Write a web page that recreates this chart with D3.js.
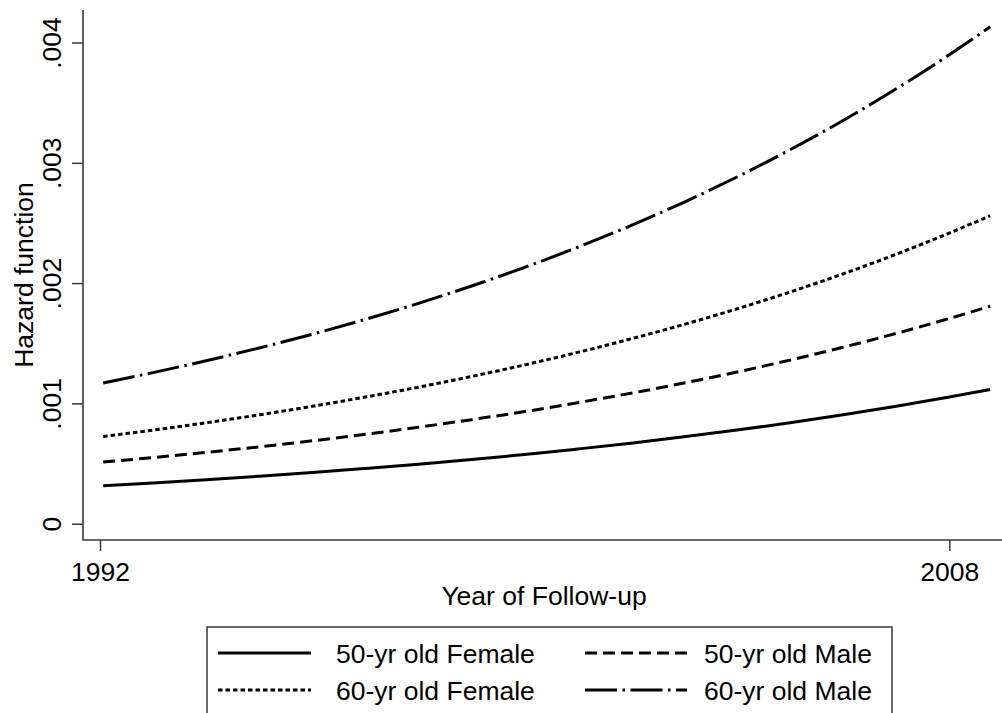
<!DOCTYPE html>
<html>
<head>
<meta charset="utf-8">
<script src="https://cdn.jsdelivr.net/npm/d3@7"></script>
<style>
  html, body { margin: 0; padding: 0; background: #fff; }
  svg { display: block; font-family: "Liberation Sans", Arial, sans-serif; }
</style>
</head>
<body>
<svg id="chart" width="1002" height="713"></svg>
<script>
// Follow-up time (years) at which the hazard curves are evaluated
const years = [1992.06, 1993, 1994, 1995, 1996, 1997, 1998, 1999, 2000, 2001,
               2002, 2003, 2004, 2005, 2006, 2007, 2008, 2008.77];

// Estimated hazard by age / sex group
const female50 = [0.000316, 0.000339, 0.000366, 0.000395, 0.000425, 0.000459, 0.000495, 0.000534, 0.000575,
                  0.000621, 0.000669, 0.000722, 0.000778, 0.000839, 0.000905, 0.000976, 0.001053, 0.001116];
const male50   = [0.000512, 0.000550, 0.000593, 0.000639, 0.000689, 0.000743, 0.000802, 0.000865, 0.000932,
                  0.001006, 0.001084, 0.001169, 0.001261, 0.001360, 0.001467, 0.001582, 0.001706, 0.001808];
const female60 = [0.000725, 0.000778, 0.000839, 0.000905, 0.000976, 0.001053, 0.001135, 0.001224, 0.001320,
                  0.001424, 0.001536, 0.001656, 0.001786, 0.001926, 0.002077, 0.002240, 0.002416, 0.002560];
const male60   = [0.001170, 0.001256, 0.001355, 0.001461, 0.001575, 0.001699, 0.001832, 0.001976, 0.002131,
                  0.002298, 0.002478, 0.002672, 0.002882, 0.003108, 0.003352, 0.003615, 0.003898, 0.004131];

const seriesNames = ["50-yr old Female", "50-yr old Male", "60-yr old Female", "60-yr old Male"];
const seriesValues = [female50, male50, female60, male60];

const xTicks = [1992, 2008];
const yTicks = [0, 0.001, 0.002, 0.003, 0.004];
const yTickLabels = ["0", ".001", ".002", ".003", ".004"];

// Line styles per series (solid, dashed, dotted, dash-dot)
const dashes = [null, "12,6", "4.5,3", "32,5.5,2.5,5.5"];

const svg = d3.select("#chart");
const axisColor = "#3a3a3a";
const fontSize = 26.5;

// Plot region edges
const plotLeft = 83, plotRight = 1002, plotTop = 10, plotBottom = 540;

const x = d3.scaleLinear().domain([1992, 2008]).range([100, 949.3]);
const y = d3.scaleLinear().domain([0, 0.004]).range([523.7, 42.5]);

// Y axis
const yAxis = svg.append("g")
  .attr("transform", `translate(${plotLeft},0)`)
  .call(d3.axisLeft(y).tickValues(yTicks).tickSize(11)
        .tickFormat((d, i) => yTickLabels[i]));
yAxis.select(".domain").remove();
yAxis.selectAll(".tick line").attr("stroke", axisColor).attr("stroke-width", 1.5);
yAxis.selectAll(".tick text")
  .attr("x", 0).attr("y", 0).attr("dy", 0)
  .attr("text-anchor", "middle")
  .attr("transform", "translate(-22,0) rotate(-90)")
  .attr("font-size", fontSize)
  .attr("font-family", "Liberation Sans, Arial, sans-serif")
  .attr("fill", "#000");

// X axis
const xAxis = svg.append("g")
  .attr("transform", `translate(0,${plotBottom})`)
  .call(d3.axisBottom(x).tickValues(xTicks).tickSize(11).tickFormat(d3.format("d")));
xAxis.select(".domain").remove();
xAxis.selectAll(".tick line").attr("stroke", axisColor).attr("stroke-width", 1.5);
xAxis.selectAll(".tick text")
  .attr("y", 41).attr("dy", 0)
  .attr("font-size", fontSize)
  .attr("font-family", "Liberation Sans, Arial, sans-serif")
  .attr("fill", "#000");

// Axis lines
svg.append("path")
  .attr("d", `M${plotLeft},${plotTop}V${plotBottom}H${plotRight}`)
  .attr("fill", "none")
  .attr("stroke", axisColor)
  .attr("stroke-width", 1.6);

// Axis titles
svg.append("text")
  .attr("transform", "translate(33,275) rotate(-90)")
  .attr("text-anchor", "middle")
  .attr("font-size", fontSize)
  .attr("fill", "#000")
  .text("Hazard function");

svg.append("text")
  .attr("x", 544).attr("y", 605)
  .attr("text-anchor", "middle")
  .attr("font-size", fontSize)
  .attr("fill", "#000")
  .text("Year of Follow-up");

// Hazard curves
const line = d3.line()
  .x((d, i) => x(years[i]))
  .y(d => y(d))
  .curve(d3.curveMonotoneX);

svg.append("g").selectAll("path")
  .data(seriesValues)
  .join("path")
  .attr("d", d => line(d))
  .attr("fill", "none")
  .attr("stroke", "#000")
  .attr("stroke-width", 3)
  .attr("stroke-dasharray", (d, i) => dashes[i]);

// Legend (two columns, two rows; box runs past the bottom edge)
const legend = svg.append("g");
legend.append("rect")
  .attr("x", 207).attr("y", 627)
  .attr("width", 685).attr("height", 110)
  .attr("fill", "#fff")
  .attr("stroke", axisColor)
  .attr("stroke-width", 1.5);

const legendPos = [
  { x1: 218, x2: 311, tx: 336, ly: 653 },
  { x1: 585, x2: 687, tx: 704, ly: 653 },
  { x1: 218, x2: 311, tx: 336, ly: 690 },
  { x1: 585, x2: 687, tx: 704, ly: 690 }
];

seriesNames.forEach((name, i) => {
  const p = legendPos[i];
  legend.append("line")
    .attr("x1", p.x1).attr("x2", p.x2)
    .attr("y1", p.ly).attr("y2", p.ly)
    .attr("stroke", "#000")
    .attr("stroke-width", 3)
    .attr("stroke-dasharray", dashes[i]);
  legend.append("text")
    .attr("x", p.tx).attr("y", p.ly + 9.5)
    .attr("font-size", fontSize)
    .attr("fill", "#000")
    .text(name);
});
</script>
</body>
</html>
